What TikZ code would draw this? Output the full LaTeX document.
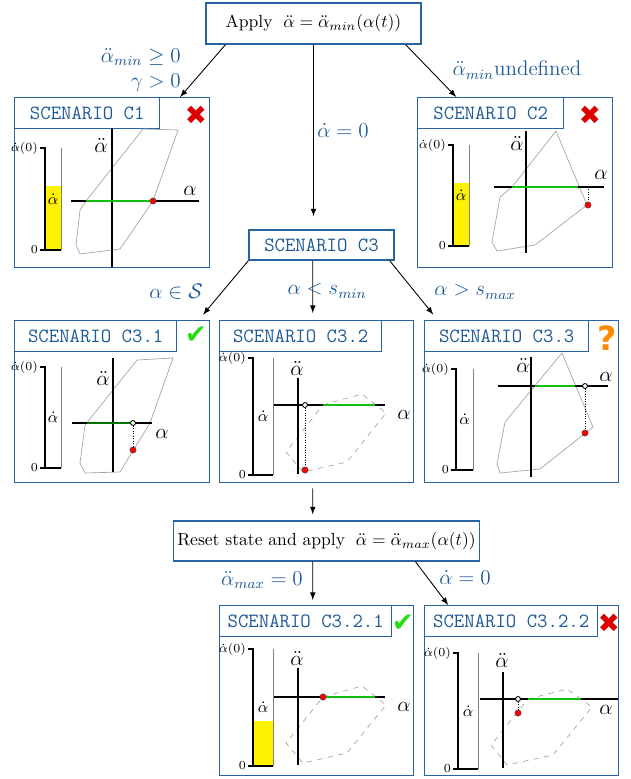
\documentclass[tikz,border=0pt]{standalone}
\usepackage{amsmath}
\usepackage{fontspec}
\newfontfamily\symbolfont{DejaVu Sans}
\usetikzlibrary{arrows}
\usetikzlibrary{positioning}
\usetikzlibrary{calc}

\definecolor{boxblue}{RGB}{40,100,160}
\definecolor{textblue}{RGB}{30,90,150}
\definecolor{limgreen}{RGB}{20,190,20}
\definecolor{okgreen}{RGB}{40,220,20}
\definecolor{badred}{RGB}{220,0,0}
\definecolor{whatorange}{RGB}{255,140,0}

\begin{document}
\begin{tikzpicture}[
      x = 0.02cm, y = -0.02cm,
      >=latex,
      flowbox/.style = {
        draw = boxblue, line width = .8pt, inner sep = 2pt
      },
      panel/.style = {
        draw = boxblue, line width = .8pt,
        anchor = north west, inner sep = 0
      },
      paneltitle/.style = {
        draw = boxblue, line width = .8pt, anchor = north west,
        inner sep = 0, minimum height = .62cm, text = textblue,
        font = {\ttfamily\fontsize{11.5}{14}\selectfont}
      },
      cond/.style = { text = textblue, font = \large },
      region/.style = { draw = black!35, line width = .4pt },
      limit/.style = { draw = limgreen, line width = 1.2pt },
      curstate/.style = {
        circle, fill = red, draw = black!70, line width = .3pt,
        inner sep = 0, minimum size = 3.6pt
      },
      proj/.style = {
        circle, fill = white, draw = black, line width = .5pt,
        inner sep = 0, minimum size = 2.8pt
      },
      verdict/.style = { font = {\symbolfont\fontsize{15}{15}\selectfont} },
      flow/.style = { ->, line width = .5pt },
    ]

    \useasboundingbox (0,0) rectangle (631,779);

    %% flow boxes
    \node[flowbox, minimum width = 4.3cm, minimum height = .82cm] (apply) at (313.5,23.5)
      {Apply \;$\ddot{\alpha} = \ddot{\alpha}_{min}(\alpha(t))$};
    \node[flowbox, minimum width = 2.9cm, minimum height = .6cm, text = textblue,
      font = {\ttfamily\fontsize{11.5}{14}\selectfont}] (c3) at (321.5,245) {SCENARIO C3};
    \node[flowbox, minimum width = 5.78cm, minimum height = .8cm] (reset) at (326.5,541)
      {Reset state and apply \;$\ddot{\alpha} = \ddot{\alpha}_{max}(\alpha(t))$};

    %% scenario panels
    \node[panel, minimum width = 3.9cm, minimum height = 3.4cm] (c1) at (14,97) {};
    \node[panel, minimum width = 3.9cm, minimum height = 3.4cm] (c2) at (417,97) {};
    \node[panel, minimum width = 3.9cm, minimum height = 3.24cm] (c31) at (14,320) {};
    \node[panel, minimum width = 3.88cm, minimum height = 3.24cm] (c32) at (219,320) {};
    \node[panel, minimum width = 3.88cm, minimum height = 3.24cm] (c33) at (424,320) {};
    \node[panel, minimum width = 3.88cm, minimum height = 3.4cm] (c321) at (219,605) {};
    \node[panel, minimum width = 3.88cm, minimum height = 3.4cm] (c322) at (424,605) {};

    \node[paneltitle, minimum width = 2.9cm] (c1t) at (c1.north west) {SCENARIO C1};
    \node[paneltitle, minimum width = 2.92cm] (c2t) at (c2.north west) {SCENARIO C2};
    \node[paneltitle, minimum width = 3.24cm] (c31t) at (c31.north west) {SCENARIO C3.1};
    \node[paneltitle, minimum width = 3.24cm] (c32t) at (c32.north west) {SCENARIO C3.2};
    \node[paneltitle, minimum width = 3.28cm] (c33t) at (c33.north west) {SCENARIO C3.3};
    \node[paneltitle, minimum width = 3.44cm] (c321t) at (c321.north west) {SCENARIO C3.2.1};
    \node[paneltitle, minimum width = 3.46cm] (c322t) at (c322.north west) {SCENARIO C3.2.2};

    \node[verdict, text = badred] (v1) at (196,115) {✖};
    \node[verdict, text = badred] (v2) at (590,115) {✖};
    \node[verdict, text = okgreen] (v31) at (196,335) {✔};
    \node[font = {\symbolfont\bfseries\fontsize{19}{19}\selectfont}, text = whatorange] (v33) at (607,338) {?};
    \node[verdict, text = okgreen] (v321) at (403,623) {✔};
    \node[verdict, text = badred] (v322) at (609,623) {✖};

    %% connectors
    \draw[flow] ($(apply.south west)!.093!(apply.south east)$) -- ($(c1.north west)!.846!(c1.north east)$);
    \draw[flow] ($(apply.south west)!.926!(apply.south east)$) -- ($(c2.north west)!.2!(c2.north east)$);
    \draw[flow, shorten >= .26cm] (apply.south) -- (apply.south |- c3.north);
    \draw[flow, shorten >= .14cm] ($(c3.south west)!.0!(c3.south east)$) -- ($(c31.north west)!.94!(c31.north east)$);
    \draw[flow, shorten >= .14cm] ($(c3.south west)!.44!(c3.south east)$) -- ($(c32.north west)!.48!(c32.north east)$);
    \draw[flow, shorten >= .14cm] ($(c3.south west)!.966!(c3.south east)$) -- ($(c33.north west)!.07!(c33.north east)$);
    \draw[flow, shorten <= .1cm, shorten >= .12cm] ($(c32.south west)!.48!(c32.south east)$) -- ($(reset.north west)!.455!(reset.north east)$);
    \draw[flow, shorten >= .1cm] ($(reset.south west)!.455!(reset.south east)$) -- ($(c321.north west)!.48!(c321.north east)$);
    \draw[flow] ($(reset.south west)!.79!(reset.south east)$) -- ($(c322.north west)!.124!(c322.north east)$);

    %% branch conditions
    \node[cond, align = right, anchor = east] (cmin) at (187,70)
      {$\ddot{\alpha}_{min} \geq 0$\\ $\gamma > 0$};
    \node[cond] (cundef) at (517,70) {$\ddot{\alpha}_{min}$undefined};
    \node[cond] (czero) at (343,130) {$\dot{\alpha} = 0$};
    \node[cond] (cin) at (176,292) {$\alpha \in \mathcal{S}$};
    \node[cond] (cbelow) at (327,291) {$\alpha < s_{min}$};
    \node[cond] (cabove) at (475,292) {$\alpha > s_{max}$};
    \node[cond] (cmax) at (262,580) {$\ddot{\alpha}_{max} = 0$};
    \node[cond] (czero2) at (465,577) {$\dot{\alpha} = 0$};

    %% admissible regions
    \draw[region] (143,129) -- (178,130) -- (153,201) -- (120,249) -- (80,254) -- (76,245) -- (80,210) -- (86,201) -- cycle;
    \draw[region] (556,131) -- (587,205) -- (535,245) -- (497,251) -- (492,242) -- (500,197) -- (512,187) -- cycle;
    \draw[region] (137,360) -- (173,358) -- (150,423) -- (120,472) -- (85,473) -- (80,463) -- (85,425) -- cycle;
    \draw[region, dashed] (323,405) -- (362,394) -- (386,413) -- (347,462) -- (303,472) -- (286,452) -- cycle;
    \draw[region] (562,353) -- (593,427) -- (540,469) -- (500,473) -- (497,464) -- (505,422) -- cycle;
    \draw[region, dashed] (323,697) -- (362,686) -- (386,705) -- (347,753) -- (303,763) -- (286,743) -- cycle;
    \draw[region, dashed] (528,699) -- (567,689) -- (592,707) -- (553,755) -- (507,765) -- (491,745) -- cycle;

    %% velocity tanks
    \foreach \tx/\ty/\ey/\fy/\w [count=\i] in {45/148/250/186/16, 453/145/246/183/16, 45/367/468/468/16,
        253/358/475/475/20, 456/369/470/470/17, 253/649/766/721/20, 458/653/769/769/20} {
      \fill[yellow] (\tx,\fy) rectangle ({\tx+\w},\ey);
      \draw[gray, line width = .4pt] ({\tx+\w},\ty) -- ({\tx+\w},\ey);
      \draw[line width = .6pt] ({\tx-5},\ty) -- (\tx,\ty) -- (\tx,\ey);
      \draw[line width = 1pt] ({\tx-5},\ey) -- ({\tx+\w},\ey);
      \node[left, inner sep = 1pt, font = \scriptsize] (top\i) at ({\tx-5},\ty) {$\dot{\alpha}(0)$};
      \node[left, inner sep = 1pt, font = \scriptsize] (zero\i) at ({\tx-5},\ey) {$0$};
      \node[font = \small] (rate\i) at ({\tx+\w/2},{(\ty+\ey)/2}) {$\dot{\alpha}$};
    }

    %% phase axes
    \foreach \vx/\vt/\vb/\hy/\hl/\hr/\ax/\ay/\lx/\ly [count=\i] in {
        112/128/267/201/71/199/101/145/190/191,
        526/131/253/187/494/604/517/143/601/175,
        113/358/472/423/72/152/103/378/162/434,
        298/378/474/405/274/385/297/368/404/415,
        531/357/477/386/498/608/523/365/606/377,
        298/668/765/697/274/385/297/658/404/707,
        503/672/768/699/480/618/502/660/606/710} {
      \draw[line width = .6pt] (\vx,\vt) -- (\vx,\vb);
      \draw[line width = .6pt] (\hl,\hy) -- (\hr,\hy);
      \node[font = \large] (acc\i) at (\ax,\ay) {$\ddot{\alpha}$};
      \node[font = \large] (pos\i) at (\lx,\ly) {$\alpha$};
    }

    %% feasible ranges and states
    \draw[limit] (86,201) -- (153,201);
    \node[curstate] (s1) at (153,201) {};

    \draw[limit] (512,187) -- (578,187);
    \node[curstate] (s2) at (588,205) {};
    \draw[densely dotted] (588,187) -- (s2);

    \draw[limit, draw = green!45!black] (87,423) -- (133,423);
    \node[proj] (p31) at (133,423) {};
    \node[curstate] (s31) at (133,450) {};
    \draw[densely dotted] (p31) -- (s31);

    \draw[limit] (323,405) -- (375,405);
    \node[proj] (p32) at (305,405) {};
    \node[curstate] (s32) at (305,470) {};
    \draw[densely dotted] (p32) -- (s32);

    \draw[limit] (535,386) -- (575,386);
    \node[proj] (p33) at (585,386) {};
    \node[curstate] (s33) at (585,433) {};
    \draw[densely dotted] (p33) -- (s33);

    \draw[limit] (323,697) -- (375,697);
    \node[curstate] (s321) at (323,697) {};

    \draw[limit] (528,699) -- (581,699);
    \node[proj] (p322) at (518,699) {};
    \node[curstate] (s322) at (518,713) {};
    \draw[densely dotted] (p322) -- (s322);
  \end{tikzpicture}
\end{document}
